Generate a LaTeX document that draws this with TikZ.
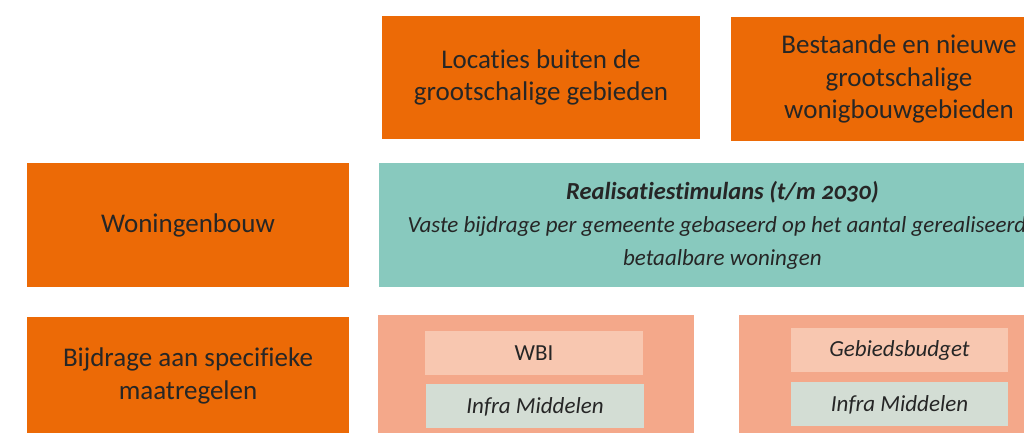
\documentclass[tikz,border=0pt]{standalone}
\usepackage{fontspec}
\setmainfont{Carlito}[Ligatures=NoCommon]
\usetikzlibrary{positioning}
\definecolor{oranje}{HTML}{EC6A06}
\definecolor{mint}{HTML}{88C9BE}
\definecolor{zalm}{HTML}{F4A88A}
\definecolor{lichtzalm}{HTML}{F8C7B0}
\definecolor{grijsgroen}{HTML}{D3DDD4}
\definecolor{inkt}{HTML}{262626}

\begin{document}
\begin{tikzpicture}[x=1pt,y=-1pt,node distance=30pt,inner sep=0pt,align=center,text=inkt]
\tikzstyle{blok}=[fill=oranje,minimum width=322pt,minimum height=124pt,font=\fontsize{27}{32.5}\selectfont]
\tikzstyle{stimulans}=[fill=mint,minimum width=686pt,minimum height=124pt,font=\fontsize{23}{33}\selectfont\itshape]
\tikzstyle{budget}=[fill=zalm,minimum height=124pt]
\tikzstyle{regel}=[minimum width=218pt,minimum height=44pt,font=\fontsize{23}{28}\selectfont]
\clip (0,0) rectangle (1024,432);
% bovenste rij
\node[blok,minimum width=318pt,minimum height=123pt] (buiten) at (541,77.5) {Locaties buiten de\\grootschalige gebieden};
\node[blok,minimum width=336pt] (gebieden) at (899,79) {Bestaande en nieuwe\\grootschalige\\wonigbouwgebieden};
% middelste rij
\node[blok] (woning) at (188,225) {Woningenbouw};
\node[stimulans,right=30pt of woning] (realisatie) {{\fontsize{24.5}{33}\selectfont\bfseries Realisatiestimulans (t/m {\addfontfeatures{Numbers=OldStyle}2030})}\\Vaste bijdrage per gemeente gebaseerd op het aantal gerealiseerde\\betaalbare woningen};
% onderste rij
\node[blok,minimum height=118pt] (bijdrage) at (188,376) {Bijdrage aan specifieke\\maatregelen};
\node[budget,minimum width=316pt] (links) at (536,377) {};
\node[budget,minimum width=320pt] (rechts) at (899,377) {};
\node[regel,fill=lichtzalm] (wbi) at (534,353) {WBI};
\node[regel,fill=grijsgroen,below=9pt of wbi,xshift=1pt] (infra1) {\itshape Infra Middelen};
\node[regel,fill=lichtzalm,minimum width=217pt,font=\fontsize{23}{28}\selectfont\itshape] (gebied) at (899.5,350) {Gebiedsbudget};
\node[regel,fill=grijsgroen,minimum width=217pt,below=10pt of gebied] (infra2) {\itshape Infra Middelen};
\end{tikzpicture}
\end{document}
